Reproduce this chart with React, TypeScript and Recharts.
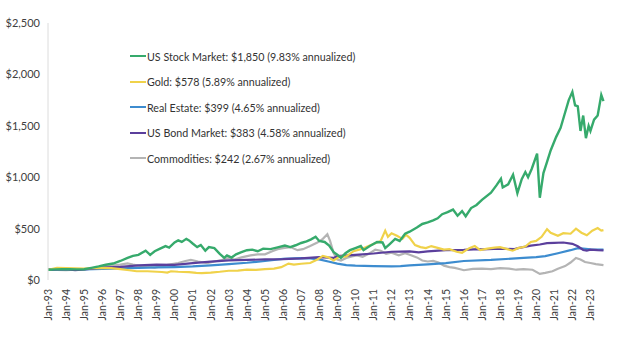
import React from "react";
import { LineChart, Line, XAxis, YAxis } from "recharts";

// [year (fractional), value in $]
const stockSeries: [number, number][] = [
  [1993.0, 100], [1993.4, 103], [1993.8, 106], [1994.2, 104], [1994.6, 103], [1995.0, 105],
  [1995.4, 118], [1995.8, 132], [1996.2, 148], [1996.6, 160], [1997.0, 185], [1997.4, 215],
  [1997.7, 235], [1998.0, 245], [1998.4, 285], [1998.65, 245], [1998.9, 280], [1999.2, 305],
  [1999.5, 330], [1999.7, 315], [2000.0, 365], [2000.2, 385], [2000.4, 370], [2000.65, 400],
  [2000.8, 385], [2001.0, 355], [2001.25, 320], [2001.45, 340], [2001.7, 285], [2001.9, 320],
  [2002.2, 310], [2002.5, 255], [2002.75, 215], [2002.9, 240], [2003.15, 218], [2003.4, 250],
  [2003.7, 270], [2004.0, 290], [2004.3, 295], [2004.6, 280], [2004.9, 305], [2005.3, 300],
  [2005.7, 318], [2006.1, 335], [2006.4, 320], [2006.7, 338], [2007.0, 360], [2007.3, 375],
  [2007.55, 395], [2007.8, 420], [2008.0, 380], [2008.3, 370], [2008.55, 335], [2008.8, 270],
  [2009.0, 245], [2009.2, 215], [2009.45, 260], [2009.7, 290], [2010.0, 310], [2010.3, 330],
  [2010.45, 290], [2010.8, 330], [2011.2, 370], [2011.5, 365], [2011.65, 310], [2011.9, 350],
  [2012.2, 400], [2012.45, 380], [2012.75, 450], [2013.0, 470], [2013.4, 510], [2013.7, 545],
  [2014.0, 560], [2014.3, 580], [2014.55, 600], [2014.8, 640], [2015.1, 660], [2015.4, 685],
  [2015.65, 625], [2015.9, 670], [2016.1, 620], [2016.4, 700], [2016.7, 730], [2017.0, 780],
  [2017.5, 850], [2017.8, 920], [2018.05, 985], [2018.15, 900], [2018.45, 930], [2018.72, 1025],
  [2018.96, 845], [2019.2, 980], [2019.4, 1050], [2019.55, 1000], [2019.75, 1080], [2020.05, 1230],
  [2020.2, 800], [2020.4, 1040], [2020.6, 1150], [2020.8, 1260], [2021.1, 1390], [2021.35, 1480],
  [2021.55, 1600], [2021.8, 1750], [2022.0, 1830], [2022.15, 1700], [2022.3, 1690], [2022.45, 1450],
  [2022.6, 1600], [2022.75, 1380], [2022.9, 1500], [2023.0, 1450], [2023.2, 1560], [2023.4, 1600],
  [2023.6, 1800], [2023.72, 1740],
];

const goldSeries: [number, number][] = [
  [1993.0, 100], [1993.5, 118], [1994.0, 115], [1995.0, 112], [1996.0, 118], [1996.5, 115],
  [1997.0, 105], [1997.5, 95], [1997.9, 85], [1998.5, 85], [1999.3, 78], [1999.6, 72],
  [1999.8, 85], [2000.2, 80], [2000.8, 76], [2001.2, 70], [2001.5, 67], [2002.0, 72],
  [2002.5, 80], [2003.0, 90], [2003.5, 92], [2004.0, 100], [2004.5, 98], [2005.0, 105],
  [2005.5, 110], [2005.9, 125], [2006.3, 160], [2006.6, 150], [2007.0, 158], [2007.5, 165],
  [2007.9, 200], [2008.2, 235], [2008.5, 220], [2008.8, 190], [2009.1, 225], [2009.5, 230],
  [2009.9, 280], [2010.3, 300], [2010.6, 320], [2011.0, 350], [2011.4, 380], [2011.65, 480],
  [2011.8, 420], [2012.0, 455], [2012.3, 430], [2012.6, 400], [2012.8, 440], [2013.0, 410],
  [2013.3, 340], [2013.6, 320], [2013.9, 310], [2014.2, 330], [2014.6, 310], [2014.9, 295],
  [2015.2, 300], [2015.6, 275], [2015.9, 265], [2016.3, 310], [2016.6, 330], [2016.9, 290],
  [2017.3, 305], [2017.7, 315], [2018.0, 320], [2018.4, 300], [2018.7, 285], [2019.0, 310],
  [2019.4, 325], [2019.7, 370], [2020.0, 380], [2020.3, 420], [2020.6, 495], [2020.8, 460],
  [2021.2, 430], [2021.5, 455], [2021.9, 450], [2022.2, 500], [2022.5, 460], [2022.8, 435],
  [2023.1, 480], [2023.4, 505], [2023.6, 480], [2023.72, 485],
];

const realEstateSeries: [number, number][] = [
  [1993.0, 100], [1994.0, 102], [1995.0, 103], [1996.0, 108], [1997.0, 113], [1998.0, 118],
  [1999.0, 122], [2000.0, 126], [2001.0, 132], [2002.0, 142], [2003.0, 155], [2004.0, 168],
  [2005.0, 185], [2006.0, 205], [2007.0, 212], [2007.5, 210], [2008.0, 200], [2008.5, 180],
  [2009.0, 160], [2009.5, 145], [2010.0, 140], [2011.0, 135], [2012.0, 132], [2012.5, 135],
  [2013.0, 142], [2014.0, 152], [2015.0, 165], [2016.0, 185], [2017.5, 195], [2019.3, 215],
  [2020.0, 222], [2020.5, 232], [2021.2, 260], [2021.9, 290], [2022.3, 310], [2022.6, 305],
  [2023.0, 298], [2023.72, 296],
];

const bondSeries: [number, number][] = [
  [1993.0, 100], [1994.0, 105], [1994.5, 97], [1995.0, 102], [1996.0, 120], [1997.0, 128],
  [1998.0, 142], [1999.0, 150], [2000.0, 148], [2001.0, 165], [2002.0, 178], [2003.0, 190],
  [2004.0, 195], [2005.0, 200], [2006.0, 203], [2007.0, 210], [2008.0, 222], [2008.8, 215],
  [2009.0, 232], [2010.0, 245], [2011.0, 258], [2012.0, 275], [2013.0, 278], [2013.5, 268],
  [2014.0, 278], [2015.0, 290], [2016.0, 293], [2016.8, 300], [2017.0, 298], [2018.0, 305],
  [2018.8, 300], [2019.0, 310], [2019.7, 335], [2020.2, 345], [2020.6, 358], [2021.0, 362],
  [2021.5, 365], [2022.0, 352], [2022.3, 328], [2022.6, 292], [2022.8, 285], [2023.0, 295],
  [2023.4, 290], [2023.72, 288],
];

const commoditiesSeries: [number, number][] = [
  [1993.0, 100], [1993.5, 98], [1994.0, 95], [1994.5, 100], [1995.0, 105], [1995.5, 110],
  [1996.0, 125], [1996.5, 140], [1997.0, 150], [1997.4, 162], [1997.7, 150], [1998.0, 140],
  [1998.5, 130], [1998.9, 120], [1999.3, 135], [1999.7, 150], [2000.2, 165], [2000.6, 185],
  [2000.9, 195], [2001.3, 180], [2001.8, 165], [2002.2, 180], [2002.6, 195], [2003.0, 215],
  [2003.3, 200], [2003.7, 220], [2004.2, 240], [2004.6, 250], [2005.0, 250], [2005.4, 280],
  [2005.7, 300], [2006.0, 310], [2006.4, 320], [2006.8, 290], [2007.1, 300], [2007.5, 330],
  [2007.9, 365], [2008.2, 400], [2008.45, 445], [2008.6, 380], [2008.8, 260], [2009.0, 200],
  [2009.2, 190], [2009.5, 215], [2009.8, 230], [2010.1, 240], [2010.4, 225], [2010.8, 260],
  [2011.1, 295], [2011.4, 285], [2011.7, 255], [2012.0, 265], [2012.4, 240], [2012.75, 260],
  [2013.0, 245], [2013.4, 220], [2013.7, 190], [2014.0, 180], [2014.3, 185], [2014.6, 170],
  [2014.9, 140], [2015.2, 125], [2015.5, 118], [2015.8, 105], [2016.0, 95], [2016.5, 108],
  [2017.0, 110], [2017.5, 105], [2018.0, 115], [2018.5, 110], [2018.9, 100], [2019.3, 105],
  [2019.8, 100], [2020.2, 60], [2020.5, 70], [2020.9, 85], [2021.2, 110], [2021.6, 135],
  [2021.9, 170], [2022.2, 215], [2022.45, 200], [2022.7, 175], [2023.0, 165], [2023.3, 155],
  [2023.72, 145],
];

const legendLabels = [
  "US Stock Market: $1,850 (9.83% annualized)",
  "Gold: $578 (5.89% annualized)",
  "Real Estate: $399 (4.65% annualized)",
  "US Bond Market: $383 (4.58% annualized)",
  "Commodities: $242 (2.67% annualized)",
];

const tickYears = [
  1993, 1994, 1995, 1996, 1997, 1998, 1999, 2000, 2001, 2002, 2003, 2004, 2005, 2006, 2007, 2008,
  2009, 2010, 2011, 2012, 2013, 2014, 2015, 2016, 2017, 2018, 2019, 2020, 2021, 2022, 2023,
];
const yTicks = [0, 500, 1000, 1500, 2000, 2500];

const FONT = "Lato, 'Open Sans', sans-serif";

const toRows = (s: [number, number][]) => s.map(([t, v]) => ({ t, v }));

const series = [
  { name: legendLabels[0], color: "#36aa6c", width: 2.4, data: toRows(stockSeries) },
  { name: legendLabels[1], color: "#f0d24a", width: 2.2, data: toRows(goldSeries) },
  { name: legendLabels[2], color: "#3d8ccf", width: 2.2, data: toRows(realEstateSeries) },
  { name: legendLabels[3], color: "#5b3f9c", width: 2.2, data: toRows(bondSeries) },
  { name: legendLabels[4], color: "#b4b4b4", width: 2.2, data: toRows(commoditiesSeries) },
];

const drawOrder = [4, 2, 3, 1, 0];

const XTick = (props: any) => {
  const { x, y, payload } = props;
  const yy = String(payload.value % 100).padStart(2, "0");
  return (
    <g transform={`translate(${x},${y})`}>
      <text
        x={0}
        y={0}
        dy={3.8}
        textAnchor="end"
        transform="rotate(-90)"
        fontSize={10.5}
        fill="#404040"
        fontFamily={FONT}
      >
        {`Jan-${yy}`}
      </text>
    </g>
  );
};

export default function App() {
  return (
    <div style={{ position: "absolute", left: 0, top: 0, width: 622, height: 342, background: "#fff", fontFamily: FONT }}>
      <LineChart width={622} height={342} margin={{ top: 23, right: 18, left: 0, bottom: 0 }}>
        <XAxis
          type="number"
          dataKey="t"
          domain={[1993, 2023.75]}
          ticks={tickYears}
          interval={0}
          axisLine={false}
          tickLine={false}
          tickSize={6}
          tickMargin={3}
          height={62}
          tick={<XTick />}
        />
        <YAxis
          type="number"
          domain={[0, 2500]}
          ticks={yTicks}
          width={48}
          axisLine={{ stroke: "#dcdcdc" }}
          tickLine={false}
          tickFormatter={(v: number) => `$${v.toLocaleString("en-US")}`}
          tick={{ fontSize: 11, fill: "#404040", fontFamily: FONT }}
        />
        {drawOrder.map((i) => (
          <Line
            key={series[i].name}
            data={series[i].data}
            dataKey="v"
            name={series[i].name}
            type="linear"
            stroke={series[i].color}
            strokeWidth={series[i].width}
            dot={false}
            isAnimationActive={false}
          />
        ))}
      </LineChart>
      <div style={{ position: "absolute", left: 130, top: 43.8 }}>
        {series.map((s) => (
          <div key={s.name} style={{ height: 25.4, display: "flex", alignItems: "center" }}>
            <div style={{ width: 16, height: 2, background: s.color, marginRight: 1 }} />
            <span style={{ fontSize: 10.7, color: "#333", fontFamily: FONT, whiteSpace: "nowrap" }}>{s.name}</span>
          </div>
        ))}
      </div>
    </div>
  );
}
